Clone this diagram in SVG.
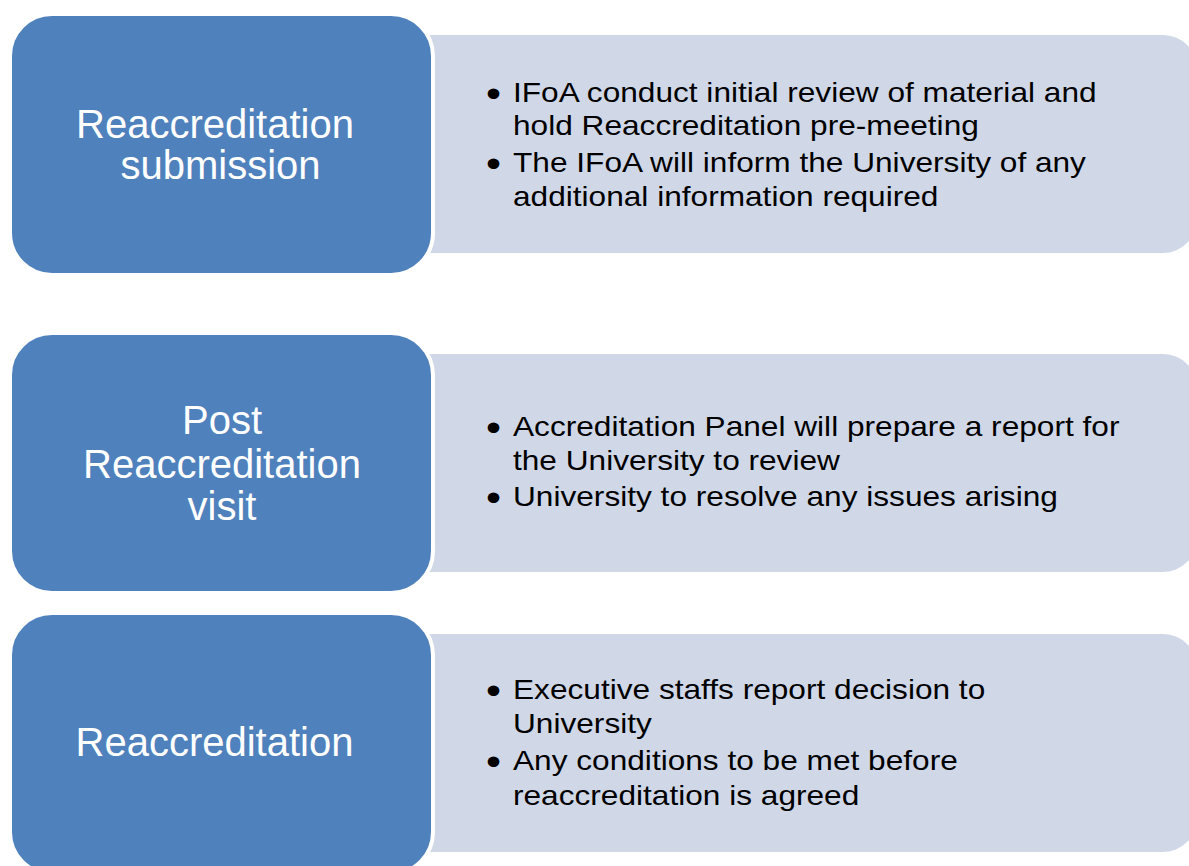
<svg xmlns="http://www.w3.org/2000/svg" width="1189" height="866" viewBox="0 0 1189 866">
<style>
.box{fill:#4F81BD;stroke:#FFFFFF;stroke-width:4}
.panel{fill:#D0D8E8;stroke:none}
.lbl{font-family:"Liberation Sans",Arial,sans-serif;font-size:40px;fill:#FFFFFF;text-anchor:middle}
.txt{font-family:"Liberation Sans",Arial,sans-serif;font-size:28px;fill:#000000}
.bul{font-family:"Liberation Sans",Arial,sans-serif;font-size:38px;fill:#000000}
</style>
<defs>
<clipPath id="clip3"><rect x="440" y="634" width="760" height="177"/></clipPath>
</defs>
<rect width="1189" height="866" fill="#FFFFFF"/>
<g id="connectors"></g>

<g id="row1">
<rect class="panel" x="300" y="35" width="897" height="218" rx="34" ry="34"/>
<rect class="box" x="10" y="14" width="423" height="261" rx="42" ry="42"/>
<text class="lbl" x="215" y="138">Reaccreditation</text>
<text class="lbl" x="220.5" y="179">submission</text>
<g transform="translate(513,0) scale(1.13,1)">
<text class="bul" x="-24" y="107.5">•</text>
<text class="txt" x="0" y="102.5">IFoA conduct initial review of material and</text>
<text class="txt" x="0" y="135">hold Reaccreditation pre-meeting</text>
<text class="bul" x="-24" y="177.5">•</text>
<text class="txt" x="0" y="172.5">The IFoA will inform the University of any</text>
<text class="txt" x="0" y="206">additional information required</text>
</g>
</g>

<g id="row2">
<rect class="panel" x="300" y="354" width="897" height="218" rx="34" ry="34"/>
<rect class="box" x="10" y="333" width="423" height="260" rx="42" ry="42"/>
<text class="lbl" x="222" y="433.5">Post</text>
<text class="lbl" x="222" y="477.5">Reaccreditation</text>
<text class="lbl" x="222" y="520">visit</text>
<g transform="translate(513,0) scale(1.13,1)">
<text class="bul" x="-24" y="441">•</text>
<text class="txt" x="0" y="436">Accreditation Panel will prepare a report for</text>
<text class="txt" x="0" y="470">the University to review</text>
<text class="bul" x="-24" y="511.5">•</text>
<text class="txt" x="0" y="506.5">University to resolve any issues arising</text>
</g>
</g>

<g id="row3">
<rect class="panel" x="300" y="634" width="897" height="218" rx="34" ry="34"/>
<rect class="box" x="10" y="613" width="423" height="261" rx="42" ry="42"/>
<text class="lbl" x="214.5" y="755.5">Reaccreditation</text>
<g clip-path="url(#clip3)">
<g transform="translate(513,0) scale(1.13,1)">
<text class="bul" x="-24" y="704.5">•</text>
<text class="txt" x="0" y="699.5">Executive staffs report decision to</text>
<text class="txt" x="0" y="733">University</text>
<text class="bul" x="-24" y="775">•</text>
<text class="txt" x="0" y="770">Any conditions to be met before</text>
<text class="txt" x="0" y="805">reaccreditation is agreed</text>
</g>
</g>
</g>
</svg>
